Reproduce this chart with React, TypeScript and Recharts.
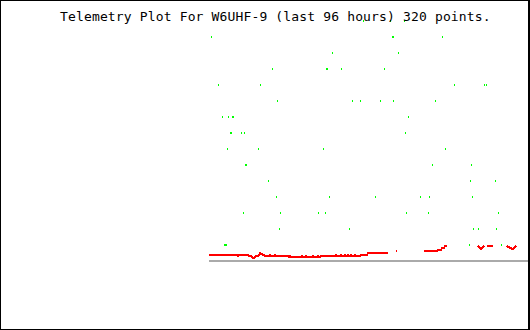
import {
  ComposedChart,
  Line,
  ReferenceLine,
  Scatter,
  XAxis,
  YAxis,
} from "recharts";

const _ = null;

// sample index (0..319) of each green hit, and the level it sits on
const greenSamples = [
  154, 181, 195,
  2, 183, 184, 233,
  123, 189,
  63, 117, 118, 132, 175,
  9, 51, 245, 275, 277,
  68, 143, 151, 171, 184, 226,
  13, 19, 23, 24, 199,
  21, 22, 32, 35, 196,
  18, 49, 114, 236,
  36, 37, 223, 262,
  59, 261, 286,
  67, 120, 166, 211, 220, 263,
  34, 71, 109, 116, 197, 219, 289,
  70, 140, 264, 269, 287,
  15, 16, 17, 260, 292,
];
const greenLevels = [
  15, 15, 15,
  14, 14, 14, 14,
  13, 13,
  12, 12, 12, 12, 12,
  11, 11, 11, 11, 11,
  10, 10, 10, 10, 10, 10,
  9, 9, 9, 9, 9,
  8, 8, 8, 8, 8,
  7, 7, 7, 7,
  6, 6, 6, 6,
  5, 5, 5,
  4, 4, 4, 4, 4, 4,
  3, 3, 3, 3, 3, 3, 3,
  2, 2, 2, 2, 2,
  1, 1, 1, 1, 1,
];

// red trace, one value per sample (null = no reading)
const redValues: (number | null)[] = [
  5, 6, 6, 6, 6, 6, 6, 6, 6, 6,
  6, 6, 6, 6, 6, 6, 6, 6, 6, 6,
  6, 6, 6, 6, 6, 6, 6, 6, 6, 5,
  6, 6, 6, 6, 6, 6, 6, 6, 6, 6,
  5, 5, 5, 4, 3, 3, 4, 5, 5, 5,
  6, 8, 7, 7, 6, 6, 5, 5, 5, 5,
  5, 6, 5, 5, 5, 5, 6, 5, 5, 5,
  5, 5, 5, 5, 5, 5, 5, 5, 5, 5,
  4, 5, 4, 4, 4, 4, 4, 4, 4, 4,
  4, 4, 4, 5, 4, 4, 4, 5, 4, 4,
  4, 4, 4, 4, 5, 4, 4, 4, 4, 5,
  4, 4, 5, 5, 5, 5, 5, 5, 5, 5,
  5, 5, 5, 5, 5, 5, 5, 6, 5, 5,
  5, 5, 6, 5, 5, 5, 6, 5, 5, 6,
  5, 5, 6, 5, 5, 5, 6, 5, 5, 5,
  5, 5, 6, 6, 6, 6, 6, 6, 6, 8,
  8, 8, 8, 8, 8, 8, 8, 8, 8, 8,
  8, 8, 8, 8, 8, 8, 8, 8, 8, 8,
  _, _, _, _, _, _, _, 10, 10, _,
  _, _, _, _, _, _, _, _, _, _,
  _, _, _, _, _, _, _, _, _, _,
  _, _, _, _, _, 10, 10, 10, 10, 10,
  10, 10, 10, 10, 10, 10, 10, 10, 10, 11,
  11, 11, 11, 13, 13, 13, 15, 15, 15, _,
  _, _, _, _, _, _, _, _, _, _,
  _, _, _, _, _, _, _, _, _, _,
  _, _, _, _, _, _, _, _, _, 15,
  14, 13, 12, 13, 14, 15, _, _, 14, 15,
  15, 15, 15, 15, 15, _, _, _, _, _,
  _, _, _, _, _, _, _, _, 15, 14,
  14, 13, 13, 12, 12, 13, 14, 15, _, _,
  _, _, _, _, _, _, _, _, _, _,
];

const redData = redValues.map((red, i) => ({ i, red }));
const greenData = greenSamples.map((i, k) => ({ i, level: greenLevels[k] }));

function GreenDot(props: any) {
  const { cx, cy } = props;
  if (cx == null || cy == null) return null;
  return <rect x={Math.round(cx)} y={Math.round(cy) - 1} width={1} height={2} fill="#00ff00" />;
}

export default function App() {
  return (
    <div
      style={{
        position: "fixed",
        left: 0,
        top: 0,
        width: 530,
        height: 330,
        background: "#fff",
        shapeRendering: "crispEdges",
      }}
    >
      <ComposedChart
        width={530}
        height={330}
        data={redData}
        margin={{ top: 21, right: 1, bottom: 69, left: 209 }}
      >
        <XAxis dataKey="i" type="number" domain={[0, 320]} hide />
        <YAxis yAxisId="lvl" type="number" domain={[0, 15]} hide />
        <YAxis yAxisId="red" type="number" domain={[0, 240]} hide />
        <ReferenceLine yAxisId="lvl" y={0} stroke="#aaaaaa" strokeWidth={2} />
        <Line
          yAxisId="red"
          dataKey="red"
          type="linear"
          stroke="#ff0000"
          strokeWidth={2}
          dot={false}
          connectNulls={false}
          isAnimationActive={false}
        />
        <Scatter
          yAxisId="lvl"
          data={greenData}
          dataKey="level"
          shape={GreenDot}
          isAnimationActive={false}
        />
      </ComposedChart>
      <div
        style={{
          position: "absolute",
          left: 60,
          top: 10,
          fontFamily: "'DejaVu Sans Mono', monospace",
          fontSize: 13,
          lineHeight: "13px",
          letterSpacing: "0.15px",
          whiteSpace: "pre",
          color: "#000",
        }}
      >
        Telemetry Plot For W6UHF-9 (last 96 hours) 320 points.
      </div>
      <div
        style={{
          position: "absolute",
          inset: 0,
          boxSizing: "border-box",
          borderTop: "1px solid #000",
          borderLeft: "1px solid #000",
          borderBottom: "1px solid #000",
          borderRight: "2px solid #000",
          pointerEvents: "none",
        }}
      />
    </div>
  );
}
